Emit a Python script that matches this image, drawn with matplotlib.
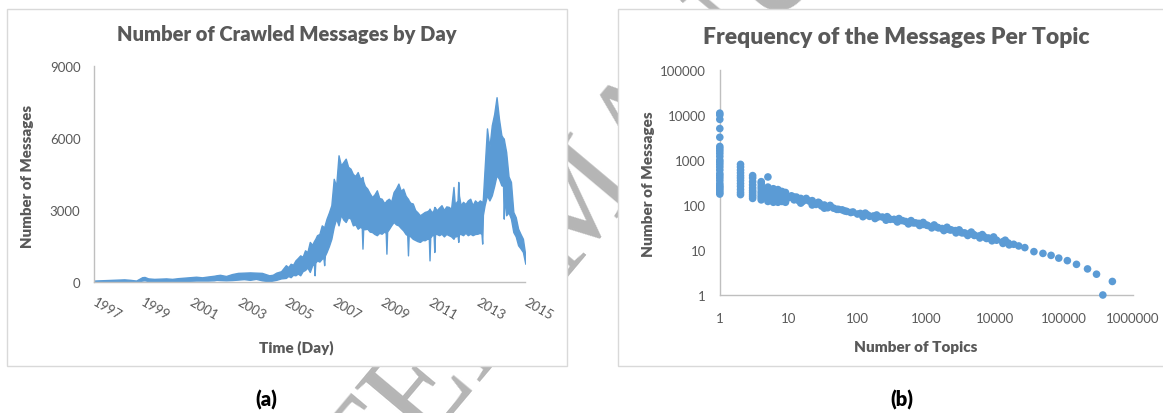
import matplotlib
matplotlib.use("Agg")
import matplotlib.pyplot as plt
from matplotlib.patches import Rectangle
from matplotlib.ticker import FixedLocator, FuncFormatter, NullLocator

plt.rcParams['font.family'] = ['Lato', 'DejaVu Sans']

# ---------------- data (a): daily message counts, band (low/high)
day_year = [1997.00, 1997.25, 1997.50, 1997.75, 1998.00, 1998.25, 1998.50, 1998.75,
            1999.00, 1999.10, 1999.25, 1999.50, 1999.75, 2000.00, 2000.25, 2000.50, 2000.75,
            2001.00, 2001.25, 2001.50, 2001.75, 2002.00, 2002.10, 2002.25, 2002.50, 2002.75,
            2003.00, 2003.25, 2003.50, 2003.75, 2004.00, 2004.30, 2004.45, 2004.60, 2004.80,
            2005.0, 2005.1, 2005.2, 2005.3, 2005.4, 2005.5, 2005.6, 2005.7, 2005.8, 2005.9,
            2006.0, 2006.1, 2006.17, 2006.2, 2006.23, 2006.3, 2006.4, 2006.5, 2006.57, 2006.6,
            2006.63, 2006.7, 2006.8, 2006.9,
            2007.0, 2007.1, 2007.2, 2007.3, 2007.4, 2007.5, 2007.6, 2007.7, 2007.8, 2007.9,
            2008.0, 2008.1, 2008.17, 2008.2, 2008.23, 2008.3, 2008.4, 2008.5, 2008.6, 2008.7,
            2008.8, 2008.9,
            2009.0, 2009.1, 2009.17, 2009.2, 2009.23, 2009.3, 2009.4, 2009.5, 2009.6, 2009.7,
            2009.8, 2009.9,
            2010.0, 2010.07, 2010.1, 2010.13, 2010.2, 2010.3, 2010.4, 2010.5, 2010.6, 2010.7,
            2010.8, 2010.9, 2010.97,
            2011.0, 2011.03, 2011.1, 2011.17, 2011.2, 2011.23, 2011.3, 2011.4, 2011.5, 2011.6,
            2011.7, 2011.8, 2011.9,
            2012.0, 2012.05, 2012.1, 2012.17, 2012.2, 2012.23, 2012.3, 2012.4, 2012.5, 2012.6,
            2012.7, 2012.8, 2012.9,
            2013.0, 2013.1, 2013.17, 2013.2, 2013.23, 2013.3, 2013.4, 2013.5, 2013.6, 2013.7,
            2013.8, 2013.9,
            2014.0, 2014.07, 2014.1, 2014.13, 2014.2, 2014.3, 2014.4, 2014.5, 2014.6, 2014.7,
            2014.8, 2014.9,
            2015.0]
msg_high = [60, 70, 80, 90, 100, 110, 90, 60,
            200, 210, 150, 130, 140, 150, 130, 160, 180,
            200, 220, 195, 230, 260, 280, 300, 250, 330,
            380, 390, 400, 390, 380, 280, 300, 390, 450,
            700, 620, 760, 720, 900, 1000, 1110, 1050, 1320, 1250,
            1670, 1550, 1700, 1750, 1800, 1950, 2000, 2360, 2300, 2250,
            2400, 2640, 2900, 3200,
            4300, 4000, 5280, 4860, 5000, 5140, 4800, 4720, 4500, 4420,
            4580, 4300, 4350, 4380, 4200, 4000, 3890, 3700, 3540, 3650,
            3820, 3500,
            3470, 3300, 3350, 3400, 3420, 3470, 3350, 3750, 3900, 4100,
            3800, 3890,
            3600, 3500, 3470, 3400, 3300, 3270, 3000, 2900, 2780, 2850,
            2920, 2950, 3000,
            3060, 3000, 2900, 3000, 3130, 3100, 2990, 3100, 3200, 3000,
            3150, 3130, 3050,
            3960, 3300, 3300, 3400, 4170, 3600, 3200, 3340, 3250, 3400,
            3470, 3200, 3400,
            3300, 3400, 3350, 3200, 3500, 4720, 6400, 5600, 6530, 7000,
            7700, 6800,
            6120, 6000, 5980, 5800, 5420, 4400, 4170, 2920, 2700, 2220,
            2000, 1800,
            1110]
msg_low = [0, 0, 10, 10, 20, 20, 10, 0,
           60, 70, 40, 40, 40, 40, 30, 40, 50,
           50, 60, 60, 60, 70, 90, 80, 70, 80,
           100, 120, 90, 130, 70, 30, 60, 90, 150,
           170, 250, 200, 300, 280, 350, 280, 450, 500, 600,
           420, 700, 750, 280, 800, 900, 850, 970, 1000, 700,
           1100, 1250, 1500, 1800,
           2300, 2640, 2360, 2800, 2600, 2500, 2700, 2640, 2360, 2400,
           2220, 2300, 2250, 1390, 2200, 2200, 2220, 2100, 2080, 2000,
           1950, 2050,
           2010, 2100, 2050, 1180, 2100, 2200, 2360, 2500, 2400, 2360,
           2250, 2150,
           2000, 1950, 1110, 1950, 1900, 1800, 1750, 1700, 1670, 1750,
           1740, 1800, 1800,
           900, 1850, 1950, 1950, 1250, 2000, 2000, 1950, 2010, 1900,
           2000, 1950, 1900,
           1800, 1900, 1900, 1950, 1670, 2000, 2000, 1950, 2050, 1950,
           2010, 1950, 2000,
           2010, 2050, 2000, 1600, 2800, 3200, 3610, 3400, 3610, 4000,
           4450, 4300,
           4030, 4000, 2640, 3600, 2780, 2900, 2640, 2080, 1900, 1530,
           1400, 1250,
           760]
year_ticks = [1997, 1999, 2001, 2003, 2005, 2007, 2009, 2011, 2013, 2015]
a_yticks = [0, 3000, 6000, 9000]

# ---------------- data (b): messages per topic (log-log scatter)
topics = ([1] * 26 + [2] * 12 + [3] * 10 + [4] * 9 + [5] * 7 + [6] * 6 + [7] * 6 + [8] * 5 + [9] * 5
          + [10, 11, 12, 13, 14, 15, 16, 18, 20, 22, 25, 28, 30, 33, 37, 40, 45, 53, 60, 70,
             86, 100, 120, 141, 170, 200, 230, 280, 340, 420, 500, 600, 700, 780, 900, 1050,
             1250, 1440, 1700, 2000, 2300, 2650, 3100, 3600, 4200, 4900, 5800, 7000, 8000,
             8900, 10500, 12900, 15500, 18600, 22000, 27000, 36600, 49500, 65000, 84000,
             112000, 152000, 220000, 297000, 367000, 505000,
             12, 15, 18, 22, 27, 33, 40, 50, 65, 80, 110, 150, 200, 300, 450, 650, 1000, 1500,
             2200, 3300, 5000, 7500,
             120, 180, 260, 380, 550, 800, 1200, 1800, 2700, 4000, 6000, 9000, 13000, 16000,
             130, 190, 270, 400, 600, 900, 1300, 2000, 3000, 4500, 6500, 9500, 14000])
messages = ([11000, 10000, 8000, 5000, 3200, 2000, 1800, 1600, 1400, 1200, 1000, 900, 800,
             700, 600, 500, 450, 400, 350, 300, 270, 250, 230, 210, 190, 175]
            + [800, 700, 600, 520, 450, 400, 350, 300, 260, 220, 190, 170]
            + [450, 400, 330, 280, 240, 210, 190, 170, 155, 140]
            + [330, 300, 260, 230, 200, 180, 160, 145, 130]
            + [420, 250, 220, 190, 160, 140, 120]
            + [230, 200, 170, 150, 130, 115]
            + [220, 200, 170, 150, 130, 115]
            + [200, 175, 150, 135, 120]
            + [190, 170, 150, 130, 115]
            + [145, 160, 130, 150, 125, 140, 120, 130, 122, 125, 103, 110, 95, 100, 87, 95,
               85, 80, 78, 72, 70, 63, 60, 60, 57, 55, 54, 51, 48, 45.5, 43, 41, 40, 39, 37,
               35, 33, 32, 30, 29, 28, 27, 25.5, 24, 23, 22, 20.5, 19.5, 18.5, 17.8, 16.5,
               15.3, 14.3, 13.4, 12.3, 11.3, 9.2, 8.4, 7.6, 6.6, 5.8, 4.8, 3.8, 2.9, 1, 2]
            + [150, 110, 140, 100, 115, 85, 98, 80, 74, 68, 65, 56, 55, 48, 45, 40, 36, 31,
               28, 24, 21, 18]
            + [55, 50, 46, 42, 38, 35, 31, 27, 24, 21, 18.5, 16, 14, 13]
            + [66, 60, 55, 50, 45, 41, 36, 32, 28, 25, 22, 19.5, 16.5])
b_xticks = [1, 10, 100, 1000, 10000, 100000, 1000000]
b_yticks = [1, 10, 100, 1000, 10000, 100000]

# ---------------- styling
W, H = 1163, 414
BLUE = '#5B9BD5'
TXT = '#595959'
AXC = '#BFBFBF'


def fx(px):
    return px / W


def fy(py):
    return 1 - py / H


fig = plt.figure(figsize=(W / 100, H / 100), dpi=100)
fig.patch.set_facecolor('white')

# watermark behind panels
fig.text(fx(585), fy(205), 'ACCEPTED MANUSCRIPT', family='Liberation Serif', fontsize=100,
         color='#B5B5B5', rotation=50, ha='center', va='center',
         rotation_mode='anchor', zorder=-10)

# panel boxes (white, covering watermark)
for (x0, x1) in [(7, 567), (618, 1175)]:
    fig.patches.append(Rectangle((fx(x0), fy(367)), fx(x1) - fx(x0), fy(10) - fy(367),
                                 transform=fig.transFigure, facecolor='white',
                                 edgecolor='#D9D9D9', linewidth=1.0, zorder=-5))

BOLD = 'heavy'

# ---------- panel (a)
axa = fig.add_axes([fx(94.3), fy(283), fx(525.3) - fx(94.3), fy(67) - fy(283)])
axa.patch.set_alpha(0)
axa.fill_between(day_year, msg_low, msg_high, color=BLUE, linewidth=1.0, edgecolor=BLUE)
axa.set_xlim(1997, 2015)
axa.set_ylim(0, 9000)
axa.set_xticks(year_ticks)
axa.set_xticklabels([str(y) for y in year_ticks], rotation=-30, ha='left',
                    rotation_mode='anchor', va='center')
axa.set_yticks(a_yticks)
axa.set_yticklabels([str(v) for v in a_yticks])
axa.tick_params(axis='both', length=0, colors=TXT, labelsize=9.5)
axa.tick_params(axis='x', pad=13)
axa.tick_params(axis='y', pad=10)
for s in ['top', 'right']:
    axa.spines[s].set_visible(False)
for s in ['left', 'bottom']:
    axa.spines[s].set_color(AXC)
    axa.spines[s].set_linewidth(1.0)

fig.text(fx(286.5), fy(35), 'Number of Crawled Messages by Day', ha='center', va='center',
         fontsize=14.5, fontweight=BOLD, color=TXT)
fig.text(fx(27.7), fy(176), 'Number of Messages', rotation=90, ha='center', va='center',
         fontsize=10.8, fontweight=BOLD, color=TXT)
fig.text(fx(296), fy(348), 'Time (Day)', ha='center', va='center',
         fontsize=11, fontweight=BOLD, color=TXT)
fig.text(fx(266), fy(400), '(a)', ha='center', va='center', fontsize=14.5,
         fontweight=BOLD, color='black')

# ---------- panel (b)
axb = fig.add_axes([fx(719.8), fy(296), fx(1132.8) - fx(719.8), fy(71) - fy(296)])
axb.patch.set_alpha(0)
axb.set_xscale('log')
axb.set_yscale('log')
axb.scatter(topics, messages, s=30, color=BLUE, edgecolors='none', clip_on=False, zorder=3)
axb.set_xlim(1, 1e6)
axb.set_ylim(1, 1e5)
axb.xaxis.set_major_locator(FixedLocator(b_xticks))
axb.yaxis.set_major_locator(FixedLocator(b_yticks))
axb.xaxis.set_minor_locator(NullLocator())
axb.yaxis.set_minor_locator(NullLocator())
fmt = FuncFormatter(lambda v, p: str(int(round(v))))
axb.xaxis.set_major_formatter(fmt)
axb.yaxis.set_major_formatter(fmt)
axb.tick_params(axis='both', length=0, colors=TXT, labelsize=9.5)
axb.tick_params(axis='x', pad=12)
axb.tick_params(axis='y', pad=10)
for s in ['top', 'right']:
    axb.spines[s].set_visible(False)
for s in ['left', 'bottom']:
    axb.spines[s].set_color(AXC)
    axb.spines[s].set_linewidth(1.0)

fig.text(fx(896), fy(38), 'Frequency of the Messages Per Topic', ha='center', va='center',
         fontsize=16.5, fontweight=BOLD, color=TXT)
fig.text(fx(649), fy(184), 'Number of Messages', rotation=90, ha='center', va='center',
         fontsize=11, fontweight=BOLD, color=TXT)
fig.text(fx(916), fy(348), 'Number of Topics', ha='center', va='center',
         fontsize=11, fontweight=BOLD, color=TXT)
fig.text(fx(902), fy(400), '(b)', ha='center', va='center', fontsize=14.5,
         fontweight=BOLD, color='black')

fig.savefig('out.png', dpi=100, facecolor='white')
